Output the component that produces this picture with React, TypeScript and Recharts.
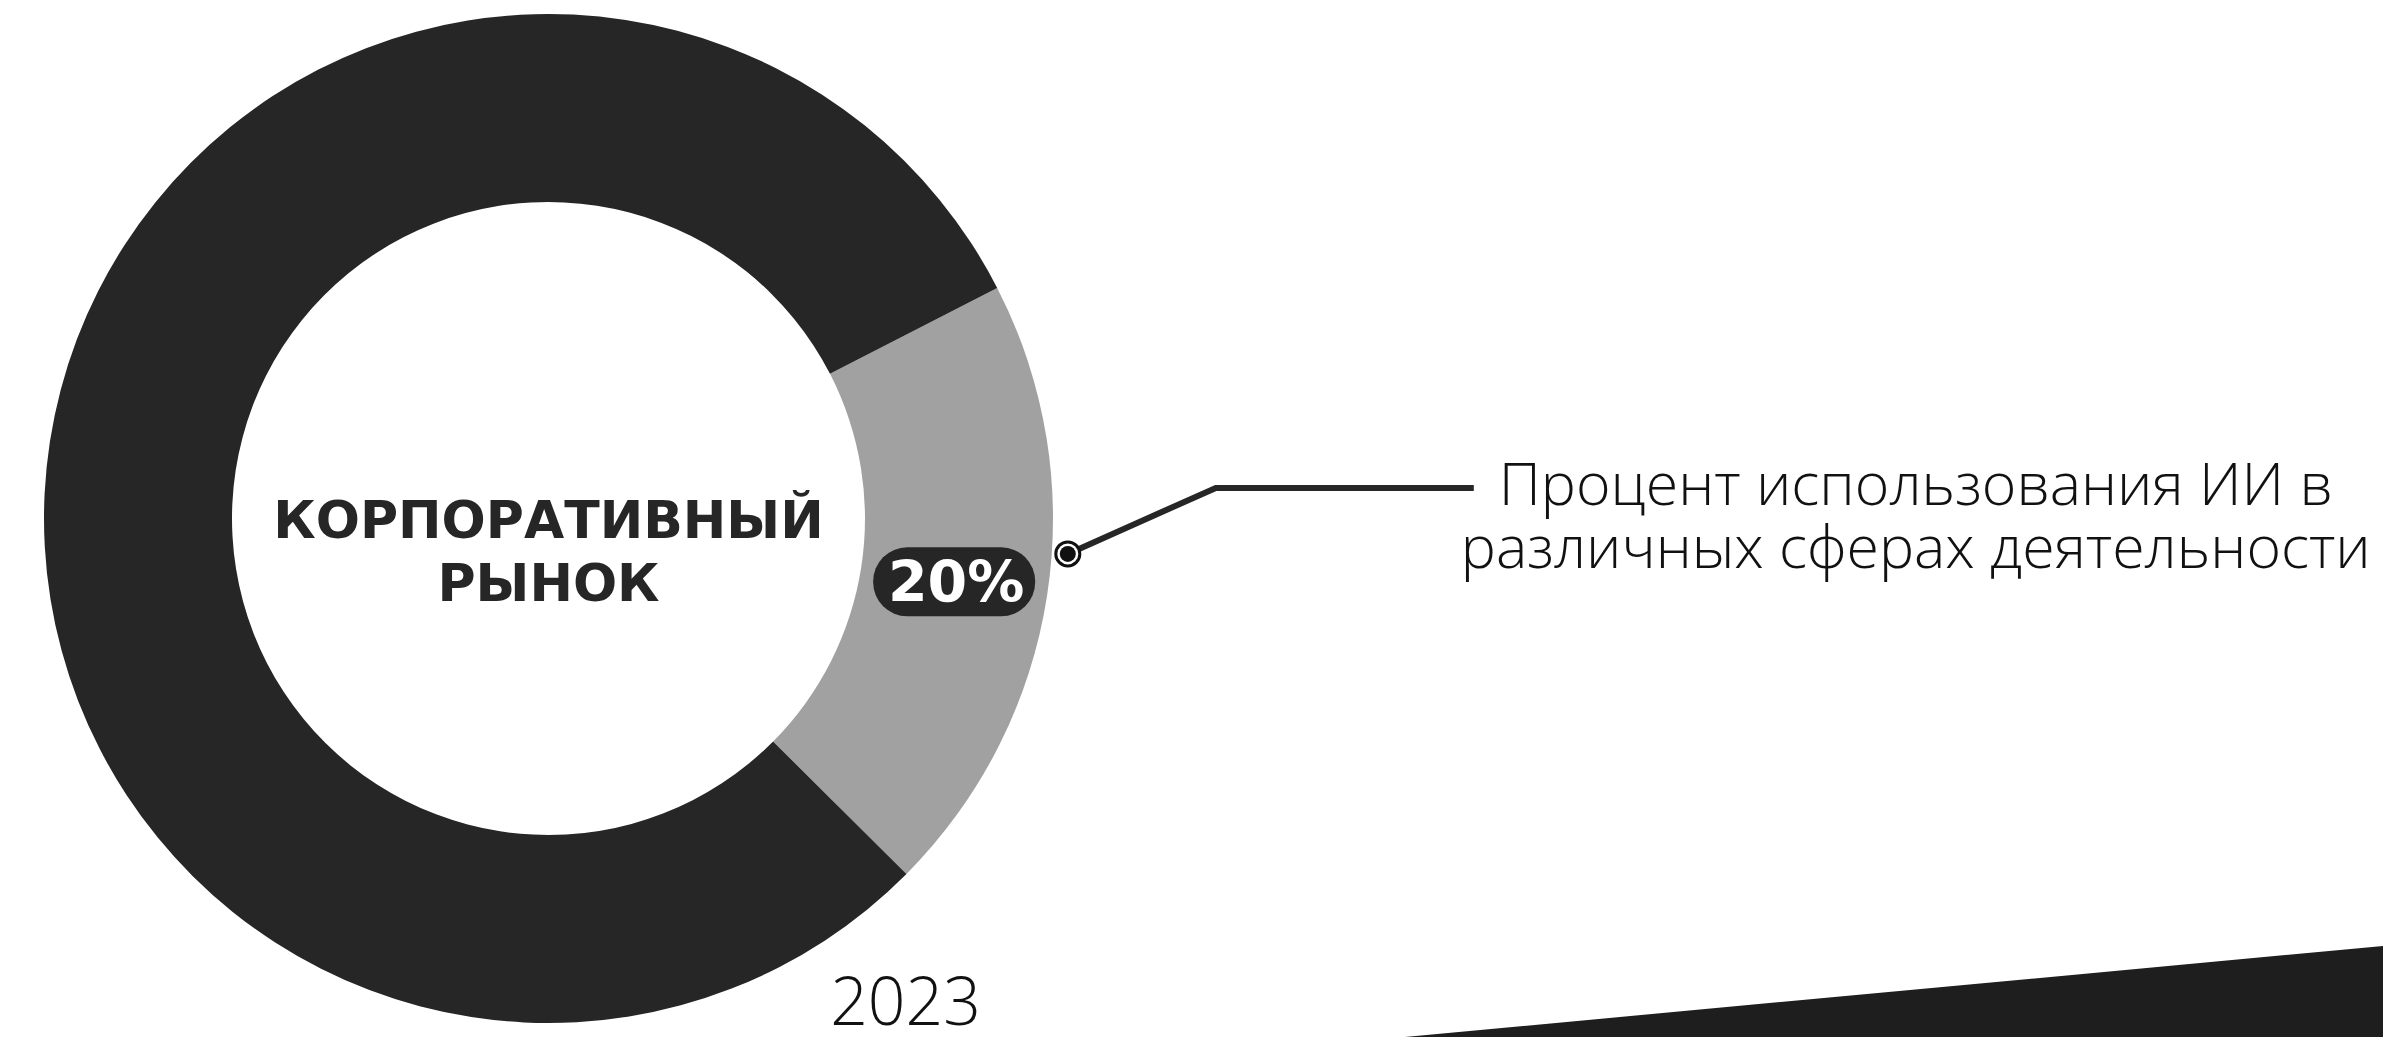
import React from 'react';
import { PieChart, Pie, Cell } from 'recharts';

// Share of AI use on the corporate market, 2023
const segments = ['Использование ИИ', 'Прочее'];
const shares = [20, 80];
const sliceColors = ['#a1a1a1', '#262626'];

const centerTitle = ['КОРПОРАТИВНЫЙ', 'РЫНОК'];
const calloutLines = ['Процент использования ИИ в', 'различных сферах деятельности'];
const yearLabel = '2023';

const data = segments.map((name, i) => ({ name, value: shares[i] }));

const W = 2383;
const H = 1037;
const RADIAN = Math.PI / 180;

const polar = (cx: number, cy: number, r: number, deg: number) => ({
  x: cx + r * Math.cos(-deg * RADIAN),
  y: cy + r * Math.sin(-deg * RADIAN),
});

const renderLabel = (props: any) => {
  const { cx, cy, midAngle, innerRadius, outerRadius, index, percent } = props;
  if (index !== 0) return null;

  const mid = polar(cx, cy, (innerRadius + outerRadius) / 2, midAngle);
  const dot = polar(cx, cy, outerRadius + 16, midAngle + 4.9);
  const elbow = { x: dot.x + 148, y: dot.y - 66 };
  const end = { x: elbow.x + 258, y: elbow.y };
  const textX = end.x + 442;

  return (
    <g>
      {/* centre title */}
      <text
        x={cx}
        y={cy + 19}
        textAnchor="middle"
        fontFamily="'DejaVu Sans', sans-serif"
        fontWeight={700}
        fontSize={52}
        fill="#262626"
      >
        {centerTitle[0]}
      </text>
      <text
        x={cx}
        y={cy + 82}
        textAnchor="middle"
        fontFamily="'DejaVu Sans', sans-serif"
        fontWeight={700}
        fontSize={52}
        fill="#262626"
      >
        {centerTitle[1]}
      </text>

      {/* percent pill */}
      <rect x={mid.x - 81} y={mid.y - 34} width={162} height={69} rx={34} fill="#262626" />
      <text
        x={mid.x + 2}
        y={mid.y + 21}
        textAnchor="middle"
        fontFamily="'DejaVu Sans', sans-serif"
        fontWeight={700}
        fontSize={57}
        fill="#ffffff"
      >
        {`${Math.round(percent * 100)}%`}
      </text>

      {/* leader */}
      <polyline
        points={`${dot.x},${dot.y} ${elbow.x},${elbow.y} ${end.x},${end.y}`}
        fill="none"
        stroke="#262626"
        strokeWidth={6}
      />
      <circle cx={dot.x} cy={dot.y} r={12} fill="#ffffff" stroke="#111" strokeWidth={3} />
      <circle cx={dot.x} cy={dot.y} r={8} fill="#111" />

      <text
        x={textX}
        y={elbow.y + 17}
        textAnchor="middle"
        fontFamily="'Open Sans', sans-serif"
        fontWeight={300}
        fontSize={59}
        fill="#111"
      >
        {calloutLines[0]}
      </text>
      <text
        x={textX}
        y={elbow.y + 80}
        textAnchor="middle"
        fontFamily="'Open Sans', sans-serif"
        fontWeight={300}
        fontSize={59}
        fill="#111"
      >
        {calloutLines[1]}
      </text>

      <text
        x={cx + 357}
        y={cy + 506}
        textAnchor="middle"
        fontFamily="'Open Sans', sans-serif"
        fontWeight={300}
        fontSize={66}
        fill="#111"
      >
        {yearLabel}
      </text>
    </g>
  );
};

export default function App() {
  return (
    <div
      style={{
        position: 'absolute',
        left: 0,
        top: 0,
        width: W,
        height: H,
        overflow: 'hidden',
        background: '#ffffff',
      }}
    >
      <svg width={W} height={H} style={{ position: 'absolute', left: 0, top: 0 }}>
        <polygon points={`1405,${H} ${W},946 ${W},${H}`} fill="#1e1e1e" />
      </svg>
      <div style={{ position: 'absolute', left: 0, top: 0 }}>
        <PieChart width={W} height={H} margin={{ top: 0, right: 0, bottom: 0, left: 0 }}>
          <Pie
            data={data}
            dataKey="value"
            nameKey="name"
            cx={548.5}
            cy={518.5}
            innerRadius={316.5}
            outerRadius={504.5}
            startAngle={27.2}
            endAngle={27.2 - 360}
            stroke="none"
            label={renderLabel}
            labelLine={false}
            isAnimationActive={false}
          >
            {data.map((entry, i) => (
              <Cell key={entry.name} fill={sliceColors[i]} />
            ))}
          </Pie>
        </PieChart>
      </div>
    </div>
  );
}
